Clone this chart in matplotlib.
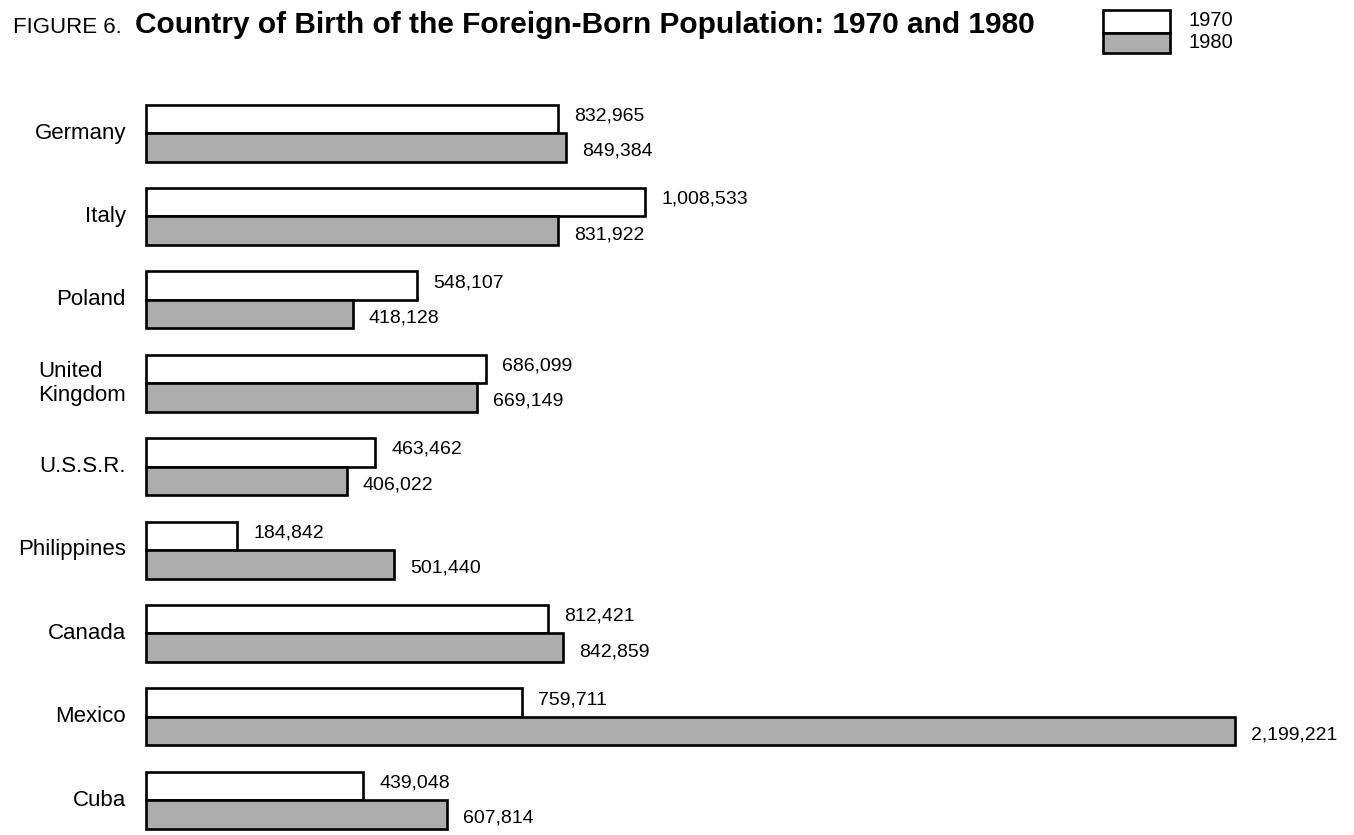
import matplotlib
matplotlib.use("Agg")
import matplotlib.pyplot as plt
from matplotlib.patches import Rectangle
from matplotlib import font_manager

countries = ["Germany", "Italy", "Poland", "United\nKingdom", "U.S.S.R.",
             "Philippines", "Canada", "Mexico", "Cuba"]
pop_1970 = [832965, 1008533, 548107, 686099, 463462, 184842, 812421, 759711, 439048]
pop_1980 = [849384, 831922, 418128, 669149, 406022, 501440, 842859, 2199221, 607814]
labels_1970 = ["832,965", "1,008,533", "548,107", "686,099", "463,462",
               "184,842", "812,421", "759,711", "439,048"]
labels_1980 = ["849,384", "831,922", "418,128", "669,149", "406,022",
               "501,440", "842,859", "2,199,221", "607,814"]
years = ["1970", "1980"]

names = {f.name for f in font_manager.fontManager.ttflist}
base = "Liberation Sans" if "Liberation Sans" in names else "DejaVu Sans"
narrow = "Liberation Sans Narrow" if "Liberation Sans Narrow" in names else base
plt.rcParams["font.family"] = [base, "DejaVu Sans"]

W, H = 1354, 835
fig = plt.figure(figsize=(W / 100, H / 100), dpi=100)
ax = fig.add_axes([0, 0, 1, 1])
ax.set_axis_off()

# layout (pixels)
x0_px = 146
px_per_unit = 0.000495
yc0_px = 133
dy_px = 83.4
ax.set_xlim(-x0_px / px_per_unit, (W - x0_px) / px_per_unit)
ax.set_ylim((H - yc0_px) / dy_px, -yc0_px / dy_px)
bh = 28.5 / dy_px

gray = "#adadad"
lw = 1.9
pos = list(range(len(countries)))
ax.barh([p - bh / 2 for p in pos], pop_1970, height=bh, color="white",
        edgecolor="black", linewidth=lw)
ax.barh([p + bh / 2 for p in pos], pop_1980, height=bh, color=gray,
        edgecolor="black", linewidth=lw)

for p, v, t in zip(pos, pop_1970, labels_1970):
    ax.annotate(t, (v, p - bh / 2), xytext=(16, 3), textcoords="offset pixels",
                ha="left", va="center", fontsize=14)
for p, v, t in zip(pos, pop_1980, labels_1980):
    ax.annotate(t, (v, p + bh / 2), xytext=(16, -4), textcoords="offset pixels",
                ha="left", va="center", fontsize=14)
for p, c in zip(pos, countries):
    ax.annotate(c, (0, p), xytext=(-20, 0), textcoords="offset pixels",
                ha="right", va="center", multialignment="left", fontsize=16)

# title
fig.text(13 / W, 1 - 33 / H, "FIGURE 6.", family=[narrow, "DejaVu Sans"],
         fontsize=16, ha="left", va="baseline")
fig.text(135 / W, 1 - 33 / H,
         "Country of Birth of the Foreign-Born Population: 1970 and 1980",
         fontsize=21.5, fontweight="bold", ha="left", va="baseline")

# legend
lx0, lx1 = 1103, 1170
fig.add_artist(Rectangle((lx0 / W, 1 - 33 / H), (lx1 - lx0) / W, 23 / H,
                         transform=fig.transFigure, facecolor="white",
                         edgecolor="black", linewidth=lw))
fig.add_artist(Rectangle((lx0 / W, 1 - 53 / H), (lx1 - lx0) / W, 20 / H,
                         transform=fig.transFigure, facecolor=gray,
                         edgecolor="black", linewidth=lw))
fig.text(1188 / W, 1 - 20 / H, years[0], fontsize=14.5, ha="left", va="center")
fig.text(1188 / W, 1 - 43 / H, years[1], fontsize=14.5, ha="left", va="center")

fig.savefig("out.png", dpi=100, facecolor="white")
